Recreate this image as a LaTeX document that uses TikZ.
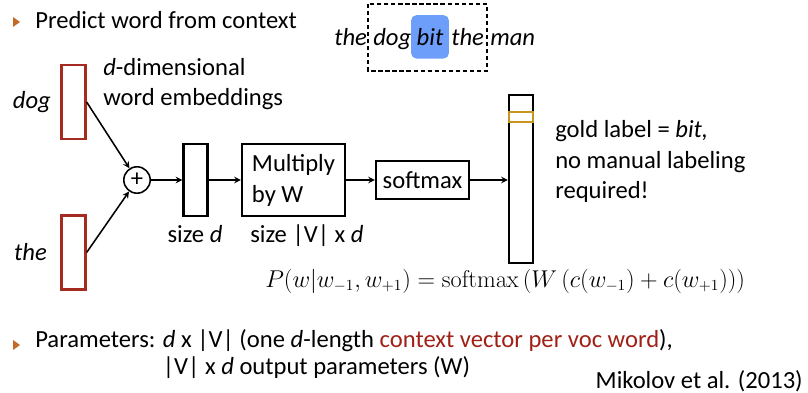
\documentclass[tikz,border=0pt]{standalone}
\usepackage[no-math]{fontspec}
\setmainfont{Carlito}
\usetikzlibrary{arrows,positioning,calc,shapes}

\definecolor{embedred}{RGB}{165,42,32}
\definecolor{ctxred}{RGB}{160,32,22}
\definecolor{bulletorange}{RGB}{196,106,40}
\definecolor{goldband}{RGB}{200,150,30}
\definecolor{hlblue}{RGB}{108,158,250}

\newcommand{\slidefont}{\fontsize{17.5}{22}\selectfont}

\begin{document}
\begin{tikzpicture}[x=0.025cm, y=-0.025cm,
    txt/.style={inner sep=0pt, font=\slidefont, align=left},
    word/.style={inner sep=0pt, font=\slidefont\itshape},
    hl/.style={word, fill=hlblue, rounded corners=4pt, 
               text height=22pt, text depth=9pt, minimum width=27pt},
    embed/.style={rectangle, draw=embedred, line width=1.6pt, 
                  minimum width=0.6cm, inner sep=0pt},
    vec/.style={rectangle, draw=black, line width=1.6pt, 
                minimum width=0.6cm, inner sep=0pt},
    op/.style={rectangle, draw=black, line width=1.6pt, 
               font=\slidefont, align=left, inner sep=0pt},
    sum/.style={circle, draw=black, line width=1.1pt, 
                minimum size=0.66cm, inner sep=0pt, font=\slidefont},
    arrow/.style={->, >=stealth, line width=1.1pt}
]
    \useasboundingbox (0,0) rectangle (808,393);

    % Heading
    \node[txt, anchor=base west] (topic) at (35,29) {Predict word from context};
    \fill[bulletorange] ($(topic.base west)+(-22,-12)$) -- ++(7,5) -- ++(-7,5) -- cycle;

    % Sentence with the context window
    \node[word, anchor=base west] (w1) at (334,46) {the};
    \node[word, anchor=base west] (w2) at (373,46) {dog};
    \node[hl, anchor=base] (w3) at (430,46) {bit};
    \node[word, anchor=base west] (w4) at (451,46) {the};
    \node[word, anchor=base west] (w5) at (490,46) {man};
    \draw[line width=1.5pt, dash pattern=on 3pt off 2pt] (368,4) rectangle (487,71);

    % Input embeddings
    \node[embed, minimum height=1.85cm] (dogvec) at (73.5,102) {};
    \node[embed, minimum height=1.85cm] (thevec) at (73.5,252.5) {};
    \node[word, left=0.23cm of dogvec] (dogword) {dog};
    \node[word, left=0.33cm of thevec] (theword) {the};
    \node[txt, anchor=base west] (embnote) at (103,106) {\textit{d}-dimensional\\word embeddings};

    % Main pipeline
    \node[sum] (plus) at (137,180) {+};
    \node[vec, minimum height=1.8cm] (ctxvec) at (195.5,180) {};
    \node[op, minimum width=2.575cm, minimum height=1.8cm] (mult) at (293.5,180) {Multiply\\by W};
    \node[op, minimum width=2.325cm, minimum height=0.95cm] (soft) at (422.5,180) {softmax};
    \node[vec, minimum height=4.2cm] (outvec) at (521,179) {};
    \node[vec, draw=goldband, minimum height=0.25cm] (gold) at (521,117) {};
    \node[txt, anchor=base west] (goldnote) at (555,199) {gold label = \textit{bit,}\\no manual labeling\\required!};

    % Size labels
    \node[txt, anchor=base] (sized) at (195,242) {size \textit{d}};
    \node[txt, anchor=base west] (sizeV) at (250,242) {size |V| x \textit{d}};

    % Objective
    \node[inner sep=0pt, anchor=west, font=\fontsize{16}{19}\selectfont] (obj) at (265,281)
        {$P(w|w_{-1},w_{+1}) = \mathrm{softmax}\,(W\,(c(w_{-1})+c(w_{+1})))$};

    % Arrows
    \draw[arrow] (dogvec.east) -- (plus);
    \draw[arrow] (thevec.east) -- (plus);
    \draw[arrow] (plus) -- (ctxvec);
    \draw[arrow] (ctxvec) -- (mult);
    \draw[arrow] (mult) -- (soft);
    \draw[arrow] (soft.east) -- (soft.east -| outvec.west);

    % Parameters
    \node[txt, anchor=base west] (params) at (35,374) {Parameters: \textit{d} x |V| (one \textit{d}-length \textcolor{ctxred}{context vector per voc word}),\\[-3pt]
        \phantom{Parameters: }|V| x \textit{d} output parameters (W)};
    \fill[bulletorange] ($(params.north west)+(-22,11)$) -- ++(7,5) -- ++(-7,5) -- cycle;
    \node[txt, anchor=base east] (cite) at (803,388) {Mikolov et al. (2013)};
\end{tikzpicture}
\end{document}
